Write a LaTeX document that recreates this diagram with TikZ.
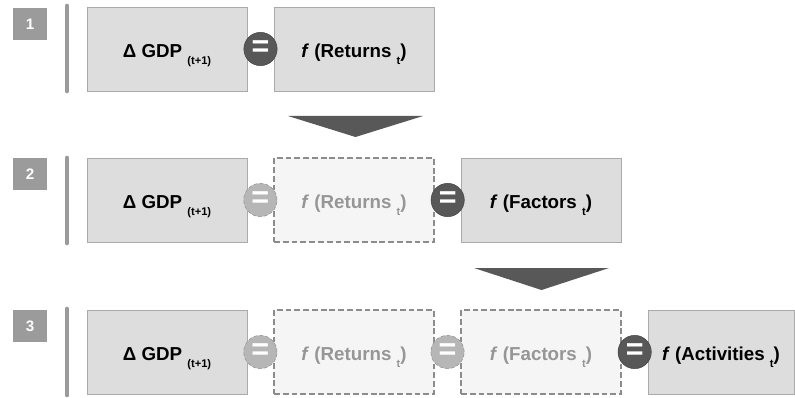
\documentclass[tikz,border=0pt]{standalone}
\usepackage{fontspec}
\setmainfont{Liberation Sans}
\usetikzlibrary{calc}
\definecolor{boxfill}{RGB}{221,221,221}
\definecolor{boxline}{RGB}{170,170,170}
\definecolor{ghostfill}{RGB}{245,245,245}
\definecolor{ghostline}{RGB}{140,140,140}
\definecolor{ghosttext}{RGB}{150,150,150}
\definecolor{darkeq}{RGB}{88,88,88}
\definecolor{lighteq}{RGB}{182,182,182}
\definecolor{stepgray}{RGB}{155,155,155}
% lowered index that does not push the line up
\newcommand{\lowidx}[1]{\raisebox{-6pt}[0pt][0pt]{\fontsize{9.5}{9.5}\selectfont #1}}

\begin{document}
\begin{tikzpicture}[x=0.03cm,y=-0.03cm,font=\bfseries\fontsize{16}{19}\selectfont,
    box/.style={rectangle,draw=boxline,fill=boxfill,text=black,minimum width=4.8cm,minimum height=2.52cm,inner sep=0pt,text height=15pt,text depth=0pt},
    ghost/.style={box,dash pattern=on 5pt off 2.5pt,line width=0.9pt,draw=ghostline,fill=ghostfill,text=ghosttext},
    eqdark/.style={circle,draw=black!75,fill=darkeq,text=white,minimum size=1cm,inner sep=0pt,font=\bfseries\fontsize{26}{26}\selectfont},
    eqlight/.style={eqdark,dash pattern=on 3pt off 2pt,draw=ghostline,fill=lighteq},
    num/.style={rectangle,fill=stepgray,text=white,minimum width=1.02cm,minimum height=0.96cm,inner sep=0pt,font=\bfseries\fontsize{13}{13}\selectfont},
    bar/.style={line width=0.14cm,line cap=round,stepgray}]

    \useasboundingbox (0,0) rectangle (795,397);

    % Step 1
    \node[num] at (30,24) (num1) {1};
    \draw[bar] (67,6) -- (67,91);
    \node[box] at (167,49) (gdp1) {Δ GDP \lowidx{(t+1)}};
    \node[box] at (354,49) (ret1) {\textit{f} (Returns \lowidx{t})};
    \node[eqdark] at ($(gdp1.east)!0.5!(ret1.west)$) (eq1) {=};

    % Step 2
    \node[num] at (30,174) (num2) {2};
    \draw[bar] (67,158) -- (67,243);
    \node[box] at (167,200) (gdp2) {Δ GDP \lowidx{(t+1)}};
    \node[ghost] at (354,200) (ret2) {\textit{f} (Returns \lowidx{t})};
    \node[box] at (541,200) (fac2) {\textit{f} (Factors \lowidx{t})};
    \node[eqlight] at ($(gdp2.east)!0.5!(ret2.west)$) (eq2a) {=};
    \node[eqdark] at ($(ret2.east)!0.5!(fac2.west)$) (eq2b) {=};

    % Step 3
    \node[num] at (30,326) (num3) {3};
    \draw[bar] (67,309) -- (67,395);
    \node[box] at (167,352) (gdp3) {Δ GDP \lowidx{(t+1)}};
    \node[ghost] at (354,352) (ret3) {\textit{f} (Returns \lowidx{t})};
    \node[ghost] at (541,352) (fac3) {\textit{f} (Factors \lowidx{t})};
    \node[box,minimum width=4.38cm] at (721,352) (act3) {\textit{f} (Activities \lowidx{t})};
    \node[eqlight] at ($(gdp3.east)!0.5!(ret3.west)$) (eq3a) {=};
    \node[eqlight] at ($(ret3.east)!0.5!(fac3.west)$) (eq3b) {=};
    \node[eqdark] at ($(fac3.east)!0.5!(act3.west)$) (eq3c) {=};

    % Down arrows between steps
    \fill[darkeq] (288,116) -- (423,116) -- (355.5,137) -- cycle;
    \fill[darkeq] (474,268) -- (609,268) -- (541.5,290) -- cycle;
\end{tikzpicture}
\end{document}
